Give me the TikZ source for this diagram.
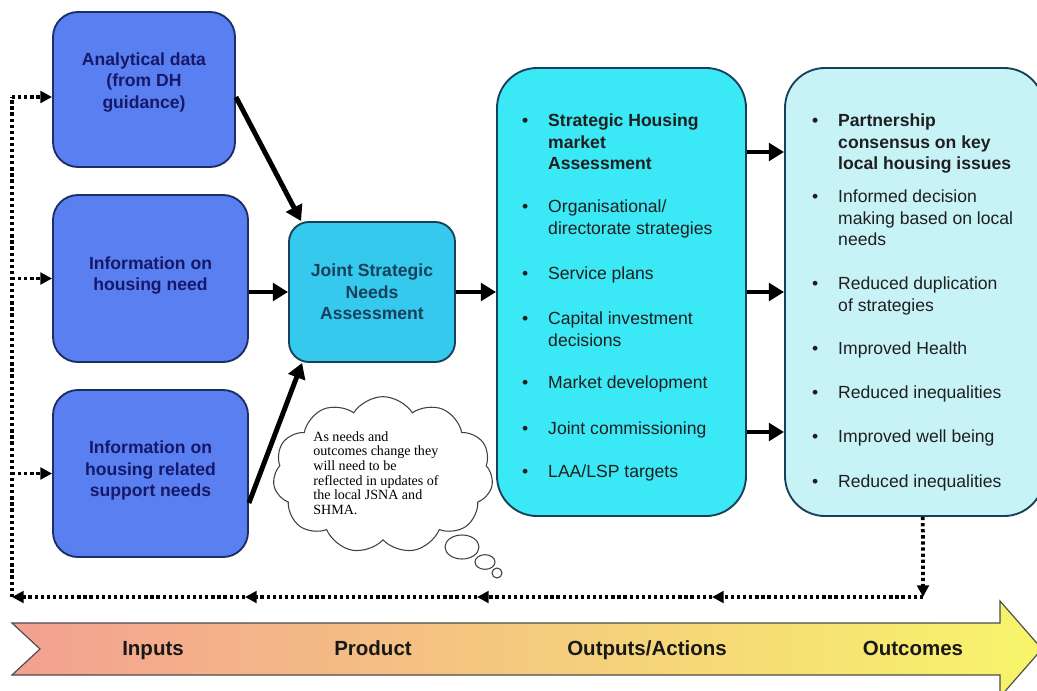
\documentclass[tikz,border=0pt]{standalone}
\usepackage{fontspec}
\setmainfont{Liberation Sans}
\newfontfamily\notefont{Liberation Serif}
\usepackage{tikz}
\usetikzlibrary{arrows.meta,positioning,calc,shapes.symbols}

\definecolor{inblue}{HTML}{5A7FF0}
\definecolor{navy}{HTML}{16186A}
\definecolor{jsnacyan}{HTML}{36C9EE}
\definecolor{outcyan}{HTML}{3BE8F5}
\definecolor{palecyan}{HTML}{C7F3F7}
\definecolor{edgeblue}{HTML}{1B2F66}
\definecolor{edgecyan}{HTML}{17405A}
\definecolor{bandl}{HTML}{F3A092}
\definecolor{bandm}{HTML}{F7D596}
\definecolor{bandr}{HTML}{F7F56A}

\newcommand{\bul}{\llap{\textbullet\hspace{17pt}}}

\begin{document}
\begin{tikzpicture}[
  x=0.03cm, y=-0.03cm,
  inbox/.style={rectangle, draw=edgeblue, line width=1.6pt, rounded corners=0.75cm, fill=inblue,
    text=navy, align=center, font=\fontsize{15}{18.3}\selectfont\bfseries,
    minimum width=5.85cm, minimum height=5.01cm},
  jsnabox/.style={inbox, draw=edgecyan, fill=jsnacyan, text=edgecyan, rounded corners=0.6cm,
    minimum width=4.98cm, minimum height=4.2cm},
  listbox/.style={rectangle, draw=edgecyan, line width=1.6pt, rounded corners=1.2cm,
    minimum height=13.44cm},
  item/.style={anchor=north west, inner sep=0pt, align=left, text=black!88,
    font=\fontsize{15}{18}\selectfont},
  bolditem/.style={item, font=\fontsize{15}{18}\selectfont\bfseries},
  arr/.style={-{Triangle[length=13pt,width=15pt]}, line width=4.2pt},
  fbline/.style={line width=3.2pt, dash pattern=on 2.8pt off 2.4pt},
  fb/.style={fbline, -{Triangle[length=10pt,width=10pt]}},
  note/.style={inner sep=0pt, align=left, font=\notefont\fontsize{12}{12.5}\selectfont},
  bandtxt/.style={anchor=base, font=\fontsize{17.5}{18}\selectfont\bfseries, text=black!90}
]
  \useasboundingbox (0,0) rectangle (1037,690);
  \clip (0,0) rectangle (1037,690);
  \fill[white] (0,0) rectangle (1037,690);

  \node[inbox, minimum width=5.46cm, minimum height=4.65cm] (ana) at (144,89.5) {Analytical data\\(from DH\\guidance)\\[-3pt]};
  \node[inbox] (need) at (150.5,278.5) {Information on\\housing need\\[-10pt]};
  \node[inbox] (supp) at (150.5,473.5) {Information on\\housing related\\support needs\\[-10pt]};
  \node[jsnabox] (jsna) at (372,292) {Joint Strategic\\Needs\\Assessment};
  \node[listbox, fill=outcyan, minimum width=7.47cm] (outp) at (621.5,292) {};
  \node[listbox, fill=palecyan, minimum width=7.77cm] (outc) at (914.5,292) {};

  \node[bolditem] (shma) at (548,114) {\bul Strategic Housing\\market\\Assessment};
  \node[item] (orgs) at (548,200) {\bul Organisational/\\directorate strategies};
  \node[item] (plans) at (548,267) {\bul Service plans};
  \node[item] (capi) at (548,312) {\bul Capital investment\\decisions};
  \node[item] (mark) at (548,376) {\bul Market development};
  \node[item] (comm) at (548,422) {\bul Joint commissioning};
  \node[item] (laa) at (548,465) {\bul LAA/LSP targets};

  \node[bolditem] (cons) at (838,114) {\bul Partnership\\consensus on key\\local housing issues};
  \node[item] (info) at (838,190) {\bul Informed decision\\making based on local\\needs};
  \node[item] (dupl) at (838,277) {\bul Reduced duplication\\of strategies};
  \node[item] (heal) at (838,342) {\bul Improved Health};
  \node[item] (ineq) at (838,386) {\bul Reduced inequalities};
  \node[item] (well) at (838,430) {\bul Improved well being};
  \node[item] (ineqb) at (838,475) {\bul Reduced inequalities};

  \draw[arr] ([yshift=-0.225cm]ana.east) -- ([xshift=0.39cm]jsna.north west);
  \draw[arr] (need.east |- jsna.west) -- (jsna.west);
  \draw[arr] ([yshift=-0.885cm]supp.east) -- ([xshift=0.42cm]jsna.south west);
  \draw[arr] (jsna.east) -- (outp.west);
  \draw[arr] ([yshift=4.2cm]outp.east) -- ([yshift=4.2cm]outc.west);
  \draw[arr] (outp.east) -- (outc.west);
  \draw[arr] ([yshift=-4.2cm]outp.east) -- ([yshift=-4.2cm]outc.west);

  \node[cloud, cloud puffs=11, cloud puff arc=115, cloud ignores aspect, draw=black!75, line width=0.9pt,
    fill=white, minimum width=6.6cm, minimum height=4.7cm] (cloud) at (383,475) {};
  \node[note] (memo) at (376,473) {As needs and\\outcomes change they\\will need to be\\reflected in updates of\\the local JSNA and\\SHMA.};
  \draw[black!75, line width=0.9pt] (462,547) ellipse (0.51cm and 0.36cm);
  \draw[black!75, line width=0.9pt] (485,562) ellipse (0.3cm and 0.22cm);
  \draw[black!75, line width=0.9pt] (497,573) ellipse (0.15cm and 0.15cm);

  \coordinate (fbr) at (923,597);
  \coordinate (fb1) at (712,597);
  \coordinate (fb2) at (477,597);
  \coordinate (fb3) at (245,597);
  \coordinate (fbl) at (12,597);
  \coordinate (fa) at (12,97);
  \draw[fb] ([xshift=0.25cm]outc.south) -- (fbr);
  \draw[fb] (fbr) -- (fb1);
  \draw[fb] (fb1) -- (fb2);
  \draw[fb] (fb2) -- (fb3);
  \draw[fb] (fb3) -- (fbl);
  \draw[fbline] (fbl) -- (fa);
  \draw[fb] (fa) -- (ana.west |- fa);
  \draw[fb] (fbl |- need.west) -- (need.west);
  \draw[fb] (fbl |- supp.west) -- (supp.west);

  \shadedraw[left color=bandl, middle color=bandm, right color=bandr, draw=black!70, line width=1pt]
    (12,623) -- (1000,623) -- (1000,601) -- (1042,649) -- (1000,697) -- (1000,675)
    -- (12,675) -- (40,649) -- cycle;
  \node[bandtxt] (lin) at (153,655) {Inputs};
  \node[bandtxt] (lpro) at (373,655) {Product};
  \node[bandtxt] (lout) at (647,655) {Outputs/Actions};
  \node[bandtxt] (lres) at (913,655) {Outcomes};
\end{tikzpicture}
\end{document}
